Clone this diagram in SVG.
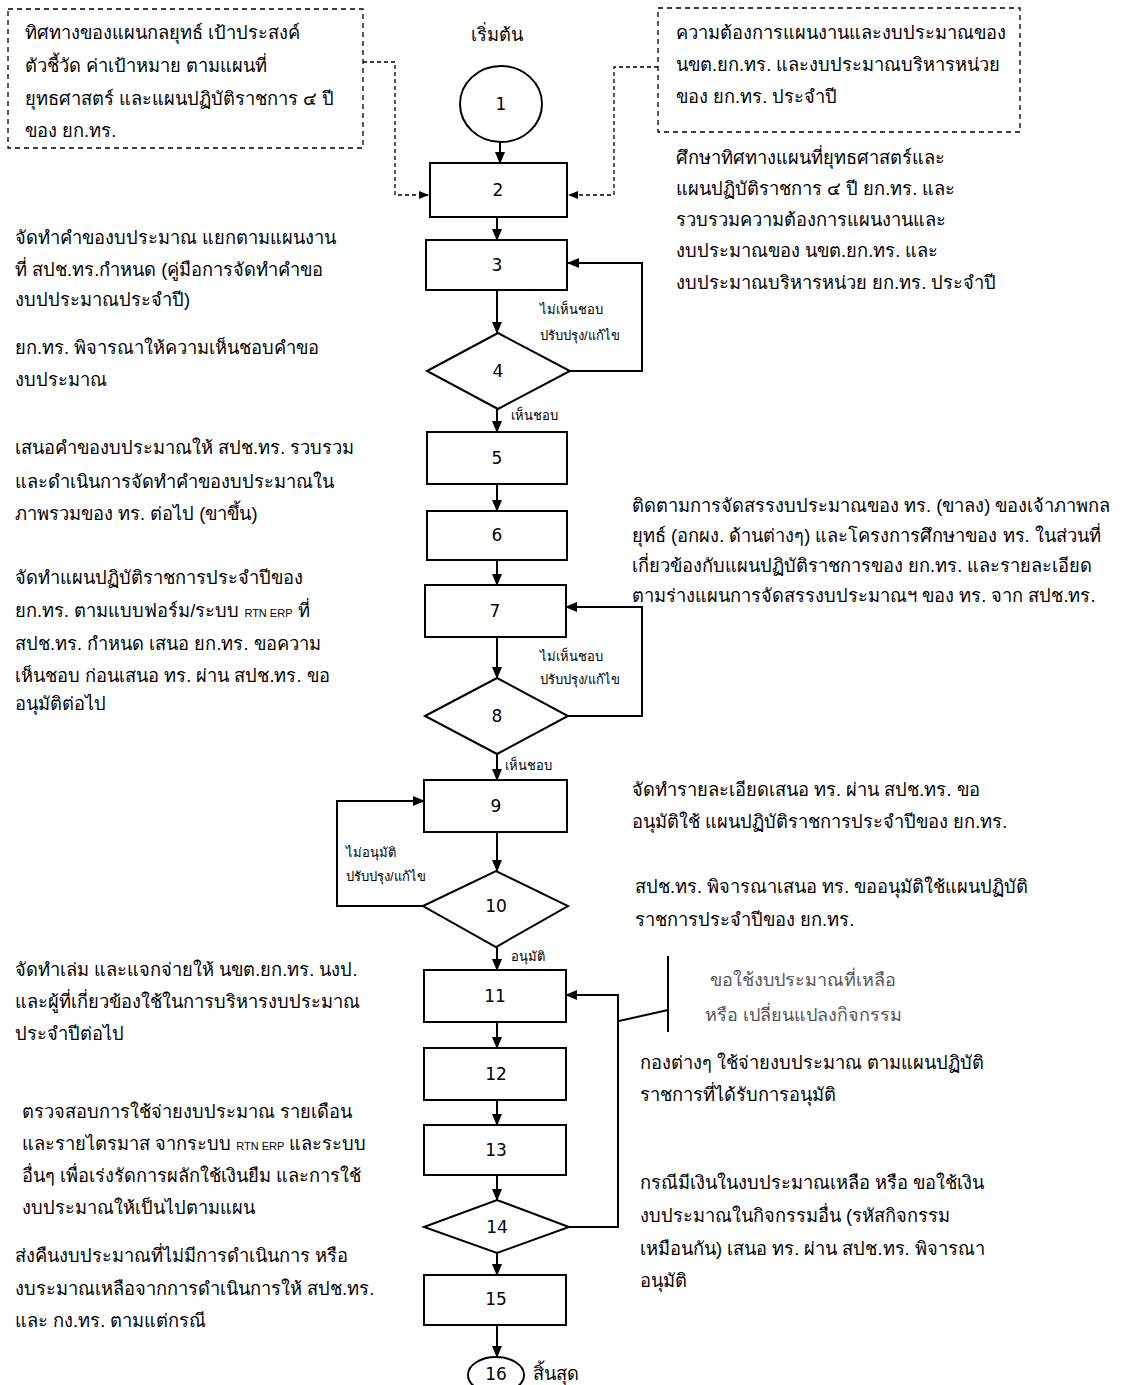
<svg xmlns="http://www.w3.org/2000/svg" width="1122" height="1385" viewBox="0 0 1122 1385">
<defs>
<marker id="ah" markerWidth="12" markerHeight="10" refX="11" refY="5" orient="auto" markerUnits="userSpaceOnUse">
<path d="M0,0 L12,5 L0,10 Z" fill="#000"/>
</marker>
<marker id="ahs" markerWidth="10" markerHeight="8" refX="9" refY="4" orient="auto" markerUnits="userSpaceOnUse">
<path d="M0,0 L10,4 L0,8 Z" fill="#000"/>
</marker>
<style>
.sh{fill:#fff;stroke:#000;stroke-width:2}
.db{fill:#fff;stroke:#000;stroke-width:1.3;stroke-dasharray:5,4}
.num{font-family:"DejaVu Sans",sans-serif;font-size:17px;fill:#000;text-anchor:middle}
.tx{font-family:"Liberation Sans","Noto Sans",sans-serif;font-size:18.3px;fill:#000}
.gr{fill:#555;font-size:18px}
.sm{font-family:"Liberation Sans","Noto Sans",sans-serif;font-size:13px;fill:#000}
.rt{font-size:11px}
.ln{fill:none;stroke:#000;stroke-width:2}
.dl{fill:none;stroke:#000;stroke-width:1.3;stroke-dasharray:4,3}
</style>
</defs>
<rect width="1122" height="1385" fill="#fff"/>

<g id="connectors">
<path class="dl" d="M363,62 H395 V195 H428" marker-end="url(#ahs)"/>
<path class="dl" d="M658,67 H614 V195 H569" marker-end="url(#ahs)"/>
<path class="ln" d="M500,142 V163" marker-end="url(#ah)"/>
<path class="ln" d="M497,217 V240" marker-end="url(#ah)"/>
<path class="ln" d="M497,290 V333" marker-end="url(#ah)"/>
<path class="ln" d="M497,409 V432" marker-end="url(#ah)"/>
<path class="ln" d="M570,371 H642 V263 H568" marker-end="url(#ah)"/>
<path class="ln" d="M497,484 V511" marker-end="url(#ah)"/>
<path class="ln" d="M497,560 V585" marker-end="url(#ah)"/>
<path class="ln" d="M497,637 V678" marker-end="url(#ah)"/>
<path class="ln" d="M497,754 V780" marker-end="url(#ah)"/>
<path class="ln" d="M568,716 H642 V607 H566" marker-end="url(#ah)"/>
<path class="ln" d="M497,832 V871" marker-end="url(#ah)"/>
<path class="ln" d="M423,906 H337 V801 H424" marker-end="url(#ah)"/>
<path class="ln" d="M497,947 V970" marker-end="url(#ah)"/>
<path class="ln" d="M497,1022 V1048" marker-end="url(#ah)"/>
<path class="ln" d="M497,1100 V1125" marker-end="url(#ah)"/>
<path class="ln" d="M497,1175 V1200" marker-end="url(#ah)"/>
<path class="ln" d="M497,1253 V1275" marker-end="url(#ah)"/>
<path class="ln" d="M569,1227 H618 V995 H566" marker-end="url(#ah)"/>
<path class="ln" d="M497,1325 V1357" marker-end="url(#ah)"/>
<path class="ln" d="M619,1021 L668,1010"/>
<path class="ln" d="M668,956 V1032"/>
<text class="sm" x="540" y="314">ไม่เห็นชอบ</text>
<text class="sm" x="540" y="340">ปรับปรุง/แก้ไข</text>
<text class="sm" x="511" y="420">เห็นชอบ</text>
<text class="sm" x="540" y="661">ไม่เห็นชอบ</text>
<text class="sm" x="540" y="684">ปรับปรุง/แก้ไข</text>
<text class="sm" x="505" y="770">เห็นชอบ</text>
<text class="sm" x="346" y="857">ไม่อนุมัติ</text>
<text class="sm" x="346" y="881">ปรับปรุง/แก้ไข</text>
<text class="sm" x="511" y="961">อนุมัติ</text>
<text class="tx gr" x="710" y="986">ขอใช้งบประมาณที่เหลือ</text>
<text class="tx gr" x="705" y="1021">หรือ เปลี่ยนแปลงกิจกรรม</text>
</g>

<g id="ext-left">
<rect class="db" x="8" y="9" width="355" height="139"/>
<text class="tx" x="25" y="39">ทิศทางของแผนกลยุทธ์ เป้าประสงค์</text>
<text class="tx" x="25" y="72">ตัวชี้วัด ค่าเป้าหมาย ตามแผนที่</text>
<text class="tx" x="25" y="105">ยุทธศาสตร์ และแผนปฏิบัติราชการ ๔ ปี</text>
<text class="tx" x="25" y="137">ของ ยก.ทร.</text>
</g>
<g id="ext-right">
<rect class="db" x="658" y="8" width="362" height="124"/>
<text class="tx" x="676" y="39">ความต้องการแผนงานและงบประมาณของ</text>
<text class="tx" x="676" y="71">นขต.ยก.ทร. และงบประมาณบริหารหน่วย</text>
<text class="tx" x="676" y="103">ของ ยก.ทร. ประจำปี</text>
</g>

<g id="n1">
<text class="tx" x="497" y="41" text-anchor="middle">เริ่มต้น</text>
<ellipse class="sh" cx="501" cy="104" rx="41" ry="38"/>
<text class="num" x="501" y="110">1</text>
</g>
<g id="n2"><rect class="sh" x="430" y="163" width="137" height="54"/><text class="num" x="498" y="196">2</text></g>
<g id="n3"><rect class="sh" x="426" y="240" width="141" height="50"/><text class="num" x="497" y="271">3</text></g>
<g id="n4"><path class="sh" d="M427,371 L498,333 L570,371 L498,409 Z"/><text class="num" x="498" y="377">4</text></g>
<g id="n5"><rect class="sh" x="427" y="432" width="140" height="52"/><text class="num" x="497" y="464">5</text></g>
<g id="n6"><rect class="sh" x="427" y="511" width="140" height="49"/><text class="num" x="497" y="541">6</text></g>
<g id="n7"><rect class="sh" x="425" y="585" width="141" height="52"/><text class="num" x="495" y="617">7</text></g>
<g id="n8"><path class="sh" d="M425,716 L497,678 L568,716 L497,754 Z"/><text class="num" x="497" y="722">8</text></g>
<g id="n9"><rect class="sh" x="424" y="780" width="143" height="52"/><text class="num" x="496" y="812">9</text></g>
<g id="n10"><path class="sh" d="M423,906 L496,871 L568,906 L496,947 Z"/><text class="num" x="496" y="912">10</text></g>
<g id="n11"><rect class="sh" x="424" y="970" width="142" height="52"/><text class="num" x="495" y="1002">11</text></g>
<g id="n12"><rect class="sh" x="424" y="1048" width="142" height="52"/><text class="num" x="496" y="1080">12</text></g>
<g id="n13"><rect class="sh" x="424" y="1125" width="142" height="50"/><text class="num" x="496" y="1156">13</text></g>
<g id="n14"><path class="sh" d="M424,1227 L497,1200 L569,1227 L497,1253 Z"/><text class="num" x="497" y="1233">14</text></g>
<g id="n15"><rect class="sh" x="424" y="1275" width="142" height="50"/><text class="num" x="496" y="1305">15</text></g>
<g id="n16">
<ellipse class="sh" cx="496" cy="1375" rx="28" ry="18"/>
<text class="num" x="496" y="1380">16</text>
<text class="tx" x="533" y="1380">สิ้นสุด</text>
</g>

<g id="notes">
<text class="tx" x="676" y="164">ศึกษาทิศทางแผนที่ยุทธศาสตร์และ</text>
<text class="tx" x="676" y="195">แผนปฏิบัติราชการ ๔ ปี ยก.ทร. และ</text>
<text class="tx" x="676" y="226">รวบรวมความต้องการแผนงานและ</text>
<text class="tx" x="676" y="257">งบประมาณของ นขต.ยก.ทร. และ</text>
<text class="tx" x="676" y="289">งบประมาณบริหารหน่วย ยก.ทร. ประจำปี</text>

<text class="tx" x="15" y="244">จัดทำคำของบประมาณ  แยกตามแผนงาน</text>
<text class="tx" x="15" y="276">ที่ สปช.ทร.กำหนด (คู่มือการจัดทำคำขอ</text>
<text class="tx" x="15" y="306">งบปประมาณประจำปี)</text>
<text class="tx" x="15" y="354">ยก.ทร. พิจารณาให้ความเห็นชอบคำขอ</text>
<text class="tx" x="15" y="386">งบประมาณ</text>

<text class="tx" x="15" y="454">เสนอคำของบประมาณให้ สปช.ทร. รวบรวม</text>
<text class="tx" x="15" y="488">และดำเนินการจัดทำคำของบประมาณใน</text>
<text class="tx" x="15" y="520">ภาพรวมของ ทร. ต่อไป (ขาขึ้น)</text>

<text class="tx" x="15" y="584">จัดทำแผนปฏิบัติราชการประจำปีของ</text>
<text class="tx" x="15" y="617">ยก.ทร. ตามแบบฟอร์ม/ระบบ <tspan class="rt">RTN ERP</tspan> ที่</text>
<text class="tx" x="15" y="650">สปช.ทร. กำหนด เสนอ ยก.ทร. ขอความ</text>
<text class="tx" x="15" y="682">เห็นชอบ ก่อนเสนอ ทร. ผ่าน สปช.ทร. ขอ</text>
<text class="tx" x="15" y="710">อนุมัติต่อไป</text>

<text class="tx" x="632" y="512">ติดตามการจัดสรรงบประมาณของ ทร. (ขาลง) ของเจ้าภาพกล</text>
<text class="tx" x="632" y="542">ยุทธ์ (อกผง. ด้านต่างๆ) และโครงการศึกษาของ ทร. ในส่วนที่</text>
<text class="tx" x="632" y="572">เกี่ยวข้องกับแผนปฏิบัติราชการของ ยก.ทร. และรายละเอียด</text>
<text class="tx" x="632" y="602">ตามร่างแผนการจัดสรรงบประมาณฯ ของ ทร. จาก สปช.ทร.</text>

<text class="tx" x="632" y="796">จัดทำรายละเอียดเสนอ ทร. ผ่าน สปช.ทร. ขอ</text>
<text class="tx" x="632" y="828">อนุมัติใช้ แผนปฏิบัติราชการประจำปีของ ยก.ทร.</text>
<text class="tx" x="635" y="893">สปช.ทร. พิจารณาเสนอ ทร. ขออนุมัติใช้แผนปฏิบัติ</text>
<text class="tx" x="635" y="926">ราชการประจำปีของ ยก.ทร.</text>

<text class="tx" x="15" y="976">จัดทำเล่ม และแจกจ่ายให้ นขต.ยก.ทร. นงป.</text>
<text class="tx" x="15" y="1008">และผู้ที่เกี่ยวข้องใช้ในการบริหารงบประมาณ</text>
<text class="tx" x="15" y="1040">ประจำปีต่อไป</text>

<text class="tx" x="640" y="1069">กองต่างๆ ใช้จ่ายงบประมาณ ตามแผนปฏิบัติ</text>
<text class="tx" x="640" y="1101">ราชการที่ได้รับการอนุมัติ</text>

<text class="tx" x="22" y="1118">ตรวจสอบการใช้จ่ายงบประมาณ รายเดือน</text>
<text class="tx" x="22" y="1150">และรายไตรมาส จากระบบ <tspan class="rt">RTN ERP</tspan> และระบบ</text>
<text class="tx" x="22" y="1182">อื่นๆ เพื่อเร่งรัดการผลักใช้เงินยืม และการใช้</text>
<text class="tx" x="22" y="1214">งบประมาณให้เป็นไปตามแผน</text>

<text class="tx" x="640" y="1189">กรณีมีเงินในงบประมาณเหลือ หรือ ขอใช้เงิน</text>
<text class="tx" x="640" y="1222">งบประมาณในกิจกรรมอื่น (รหัสกิจกรรม</text>
<text class="tx" x="640" y="1255">เหมือนกัน) เสนอ ทร. ผ่าน สปช.ทร. พิจารณา</text>
<text class="tx" x="640" y="1287">อนุมัติ</text>

<text class="tx" x="15" y="1262">ส่งคืนงบประมาณที่ไม่มีการดำเนินการ หรือ</text>
<text class="tx" x="15" y="1295">งบระมาณเหลือจากการดำเนินการให้ สปช.ทร.</text>
<text class="tx" x="15" y="1327">และ กง.ทร. ตามแต่กรณี</text>
</g>
</svg>
